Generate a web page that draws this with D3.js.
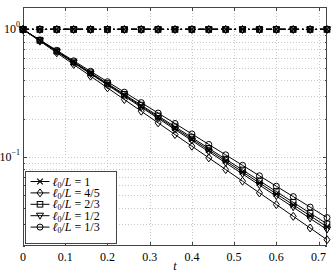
<!DOCTYPE html>
<html>
<head>
<meta charset="utf-8">
<script src="https://cdn.jsdelivr.net/npm/d3@7"></script>
<style>
  body { margin: 0; background: #fff; }
  text { font-family: "Liberation Serif"; }
</style>
</head>
<body>
<div id="chart"></div>
<script>
// time samples (one marker every 0.04)
var tVals = [0, 0.04, 0.08, 0.12, 0.16, 0.2, 0.24, 0.28, 0.32, 0.36, 0.4, 0.44, 0.48, 0.52, 0.56, 0.6, 0.64, 0.68, 0.72];

// decaying curves
var s1   = [1, 0.8204, 0.6730, 0.5521, 0.4529, 0.3715, 0.3048, 0.2500, 0.2051, 0.1683, 0.1380, 0.1132, 0.0929, 0.0762, 0.0625, 0.0513, 0.0421, 0.0345, 0.0283];
var s45  = [1, 0.8099, 0.6558, 0.5311, 0.4301, 0.3483, 0.2821, 0.2284, 0.1850, 0.1498, 0.1213, 0.0983, 0.0796, 0.0645, 0.0522, 0.0423, 0.0342, 0.0277, 0.0224];
var s23  = [1, 0.8226, 0.6767, 0.5567, 0.4579, 0.3767, 0.3099, 0.2549, 0.2097, 0.1725, 0.1419, 0.1167, 0.0960, 0.0790, 0.0650, 0.0535, 0.0440, 0.0362, 0.0298];
var s12  = [1, 0.8180, 0.6692, 0.5474, 0.4478, 0.3664, 0.2997, 0.2452, 0.2006, 0.1641, 0.1343, 0.1098, 0.0899, 0.0735, 0.0601, 0.0492, 0.0403, 0.0329, 0.0269];
var s13  = [1, 0.8280, 0.6855, 0.5675, 0.4699, 0.3890, 0.3221, 0.2667, 0.2208, 0.1828, 0.1514, 0.1253, 0.1038, 0.0859, 0.0711, 0.0589, 0.0488, 0.0404, 0.0334];
// flat reference curve at 1
var flat = [1, 1, 1, 1, 1, 1, 1, 1, 1, 1, 1, 1, 1, 1, 1, 1, 1, 1, 1];

var labels  = ["1", "4/5", "2/3", "1/2", "1/3"];
var markers = ["x", "diamond", "square", "tri", "circle"];
var series  = [s1, s45, s23, s12, s13];

var xTicks = [0, 0.1, 0.2, 0.3, 0.4, 0.5, 0.6, 0.7];
var yMajor = [1, 0.1];
var yMinor = [0.02, 0.03, 0.04, 0.05, 0.06, 0.07, 0.08, 0.09, 0.1, 0.2, 0.3, 0.4, 0.5, 0.6, 0.7, 0.8, 0.9, 1];

var margin = {top: 7, right: 5, bottom: 27, left: 23},
    width = 332 - margin.left - margin.right,
    height = 273 - margin.top - margin.bottom;

var svg = d3.select("#chart")
  .append("svg")
    .attr("width", width + margin.left + margin.right)
    .attr("height", height + margin.top + margin.bottom)
  .append("g")
    .attr("transform", "translate(" + margin.left + "," + margin.top + ")");

var x = d3.scaleLinear().domain([0, 0.72]).range([0, width]);
var y = d3.scaleLog().domain([0.02, 1.5]).range([height, 0]);

// grid
svg.append("g").selectAll("line")
  .data(yMinor.filter(function(d) { return d > 0.02; }))
  .enter().append("line")
    .attr("x1", 0).attr("x2", width)
    .attr("y1", function(d) { return Math.round(y(d)) + 0.5; })
    .attr("y2", function(d) { return Math.round(y(d)) + 0.5; })
    .attr("stroke", "#c8c8c8")
    .attr("stroke-width", 1)
    .attr("stroke-dasharray", "1,2");
svg.append("g").selectAll("line")
  .data(xTicks.slice(1))
  .enter().append("line")
    .attr("x1", function(d) { return Math.round(x(d)) + 0.5; })
    .attr("x2", function(d) { return Math.round(x(d)) + 0.5; })
    .attr("y1", 0).attr("y2", height)
    .attr("stroke", "#c8c8c8")
    .attr("stroke-width", 1)
    .attr("stroke-dasharray", "1,2");

// frame
svg.append("rect")
  .attr("x", 0.5).attr("y", 0.5)
  .attr("width", width - 1).attr("height", height - 1)
  .attr("fill", "none").attr("stroke", "#444").attr("stroke-width", 1);

// inward ticks, bottom and top
xTicks.forEach(function(d) {
  var px = Math.round(x(d)) + 0.5;
  svg.append("line").attr("x1", px).attr("x2", px).attr("y1", height).attr("y2", height - 4).attr("stroke", "#444");
  svg.append("line").attr("x1", px).attr("x2", px).attr("y1", 0).attr("y2", 4).attr("stroke", "#444");
});
yMinor.forEach(function(d) {
  var len = (d === 1 || d === 0.1) ? 4 : 2;
  var py = Math.round(y(d)) + 0.5;
  svg.append("line").attr("x1", 0).attr("x2", len).attr("y1", py).attr("y2", py).attr("stroke", "#444");
  svg.append("line").attr("x1", width).attr("x2", width - len).attr("y1", py).attr("y2", py).attr("stroke", "#444");
});

// x tick labels
svg.append("g").selectAll("text")
  .data(xTicks)
  .enter().append("text")
    .attr("x", function(d) { return x(d); })
    .attr("y", height + 15)
    .attr("text-anchor", "middle")
    .attr("font-size", "12px")
    .text(function(d) { return d === 0 ? "0" : d3.format(".1f")(d); });

// y tick labels (10^0, 10^-1)
yMajor.forEach(function(d) {
  var t = svg.append("text")
    .attr("x", -3)
    .attr("y", y(d) + 4)
    .attr("text-anchor", "end")
    .attr("font-size", "12px");
  t.append("tspan").text("10");
  t.append("tspan").attr("dy", -6).attr("font-size", "8px").text(String(Math.round(Math.log10(d))).replace("-", "\u2212"));
});

// x label
svg.append("text")
  .attr("x", width / 2)
  .attr("y", height + 24)
  .attr("text-anchor", "middle")
  .attr("font-size", "12px")
  .attr("font-style", "italic")
  .text("t");

// marker drawing
function drawMarker(g, type, cx, cy) {
  var r = 2.8;
  if (type === "x") {
    g.append("path").attr("d", "M" + (cx - r) + "," + (cy - r) + "L" + (cx + r) + "," + (cy + r) + "M" + (cx - r) + "," + (cy + r) + "L" + (cx + r) + "," + (cy - r))
      .attr("stroke", "#000").attr("stroke-width", 1.2).attr("fill", "none");
  } else if (type === "diamond") {
    g.append("path").attr("d", "M" + cx + "," + (cy - 4) + "L" + (cx + 3) + "," + cy + "L" + cx + "," + (cy + 4) + "L" + (cx - 3) + "," + cy + "Z")
      .attr("stroke", "#000").attr("stroke-width", 1).attr("fill", "none");
  } else if (type === "square") {
    g.append("rect").attr("x", cx - 2.8).attr("y", cy - 2.8).attr("width", 5.6).attr("height", 5.6)
      .attr("stroke", "#000").attr("stroke-width", 1).attr("fill", "none");
  } else if (type === "tri") {
    g.append("path").attr("d", "M" + (cx - 3.5) + "," + (cy - 2.5) + "L" + (cx + 3.5) + "," + (cy - 2.5) + "L" + cx + "," + (cy + 3.5) + "Z")
      .attr("stroke", "#000").attr("stroke-width", 1).attr("fill", "none");
  } else {
    g.append("circle").attr("cx", cx).attr("cy", cy).attr("r", 3)
      .attr("stroke", "#000").attr("stroke-width", 1).attr("fill", "none");
  }
}

var line = d3.line()
  .x(function(d) { return x(d[0]); })
  .y(function(d) { return y(d[1]); });

// flat dash-dot curves with all markers
var flatG = svg.append("g");
markers.forEach(function(m) {
  var pts = tVals.map(function(t, i) { return [t, flat[i]]; });
  flatG.append("path").datum(pts)
    .attr("d", line)
    .attr("fill", "none").attr("stroke", "#000").attr("stroke-width", 1.3)
    .attr("stroke-dasharray", "6,3,1.5,3");
  pts.forEach(function(p) { drawMarker(flatG, m, x(p[0]), y(p[1])); });
});

// decaying curves
series.forEach(function(s, k) {
  var g = svg.append("g");
  var pts = tVals.map(function(t, i) { return [t, s[i]]; });
  g.append("path").datum(pts)
    .attr("d", line)
    .attr("fill", "none").attr("stroke", "#000").attr("stroke-width", 1);
  pts.forEach(function(p) { drawMarker(g, markers[k], x(p[0]), y(p[1])); });
});

// legend
var lg = svg.append("g").attr("transform", "translate(2.5," + (height - 74.5) + ")");
lg.append("rect").attr("width", 91).attr("height", 72)
  .attr("fill", "#fff").attr("stroke", "#444").attr("stroke-width", 1);
labels.forEach(function(lab, i) {
  var cy = 10 + i * 11.4;
  lg.append("line").attr("x1", 5).attr("x2", 24).attr("y1", cy).attr("y2", cy).attr("stroke", "#000").attr("stroke-width", 1);
  drawMarker(lg, markers[i], 14.5, cy);
  var t = lg.append("text").attr("x", 27).attr("y", cy + 4).attr("font-size", "12px");
  t.append("tspan").attr("font-style", "italic").text("\u2113");
  t.append("tspan").attr("dy", 2).attr("font-size", "8px").text("0");
  t.append("tspan").attr("dy", -2).text("/");
  t.append("tspan").attr("font-style", "italic").text("L");
  t.append("tspan").text(" = " + lab);
});
</script>
</body>
</html>
